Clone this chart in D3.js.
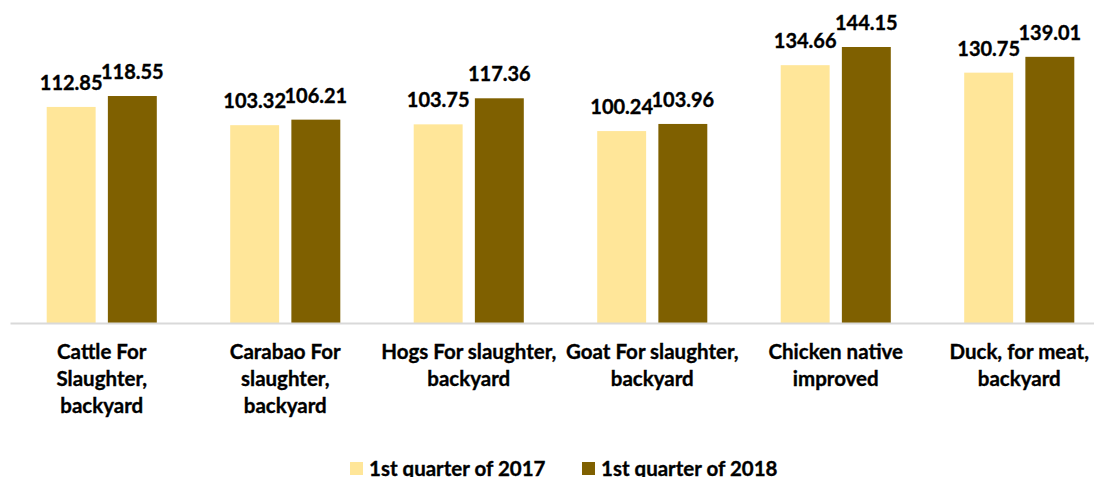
<!DOCTYPE html>
<html><head><meta charset="utf-8">
<script src="https://cdn.jsdelivr.net/npm/d3@7"></script>
<style>
html,body{margin:0;padding:0;background:#fff;}
svg{display:block;}
text{font-family:Lato,"Open Sans",sans-serif;font-weight:700;fill:#000;stroke:#000;stroke-width:0.35px;}
</style></head>
<body><svg id="chart" width="1094" height="477"></svg>
<script>
const categories = ["Cattle For Slaughter, backyard","Carabao For slaughter, backyard","Hogs For slaughter, backyard","Goat For slaughter, backyard","Chicken native improved","Duck, for meat, backyard"];
const categoryLines = [["Cattle For","Slaughter,","backyard"],["Carabao For","slaughter,","backyard"],["Hogs For slaughter,","backyard"],["Goat For slaughter,","backyard"],["Chicken native","improved"],["Duck, for meat,","backyard"]];
const seriesNames = ["1st quarter of 2017","1st quarter of 2018"];
const values2017 = [112.85,103.32,103.75,100.24,134.66,130.75];
const values2018 = [118.55,106.21,117.36,103.96,144.15,139.01];
const colors = ["#FFE699","#7F6000"];

const svg = d3.select("#chart");
const baseY = 323;
const x0 = d3.scaleBand().domain(categories).range([10,1111]).paddingInner(0).paddingOuter(0);
const x1 = d3.scaleBand().domain(seriesNames).range([36.7, x0.bandwidth()-36.7]).paddingInner(0.2).paddingOuter(0);
const y = d3.scaleLinear().domain([0,144.15]).range([baseY,47]);

const data = categories.map((c,i)=>({cat:c, vals:[values2017[i],values2018[i]]}));

const g = svg.append("g");
const groups = g.selectAll("g.grp").data(data).join("g").attr("class","grp")
  .attr("transform",d=>`translate(${x0(d.cat)},0)`);
groups.selectAll("rect").data(d=>d.vals.map((v,k)=>({s:seriesNames[k],v,k}))).join("rect")
  .attr("x",d=>x1(d.s)).attr("width",x1.bandwidth())
  .attr("y",d=>y(d.v)).attr("height",d=>y(0)-y(d.v))
  .attr("fill",d=>colors[d.k]);
groups.selectAll("text.val").data(d=>d.vals.map((v,k)=>({s:seriesNames[k],v,k}))).join("text")
  .attr("class","val")
  .attr("x",d=>x1(d.s)+x1.bandwidth()/2).attr("y",d=>y(d.v)-17)
  .attr("text-anchor","middle").style("font-size","20px")
  .text(d=>d.v.toFixed(2));

// axis line
const xAxis = d3.axisBottom(x0).tickSize(0).tickFormat("");
const ax = svg.append("g").attr("transform",`translate(0,${baseY})`).call(xAxis);
ax.select(".domain").attr("stroke","#D9D9D9").attr("stroke-width",2);

// category labels
const labs = svg.append("g").selectAll("text.cat").data(categories).join("text")
  .attr("class","cat").attr("text-anchor","middle").style("font-size","20.5px")
  .attr("transform",(d)=>`translate(${x0(d)+x0.bandwidth()/2},359)`);
labs.selectAll("tspan").data((d,i)=>categoryLines[i]).join("tspan")
  .attr("x",0).attr("y",(d,j)=>j*27).text(d=>d);

// legend
const legX = [350,582];
const leg = svg.append("g").selectAll("g").data(seriesNames).join("g")
  .attr("transform",(d,i)=>`translate(${legX[i]},0)`);
leg.append("rect").attr("x",0).attr("y",462).attr("width",13).attr("height",13).attr("fill",(d,i)=>colors[i]);
leg.append("text").attr("x",19).attr("y",476).style("font-size","20.5px").text(d=>d);
</script></body></html>
